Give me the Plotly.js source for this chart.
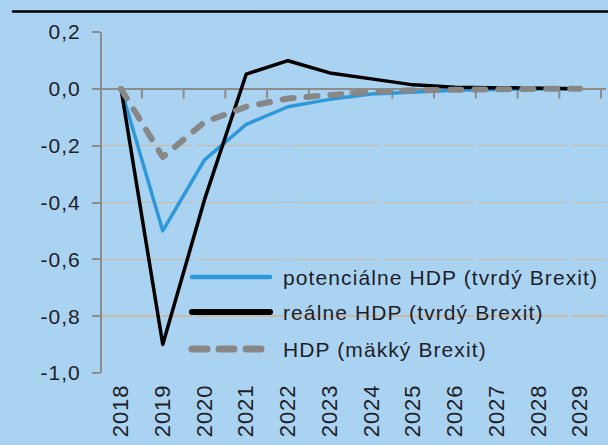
<!DOCTYPE html>
<html><head><meta charset="utf-8">
<script src="https://cdn.plot.ly/plotly-3.0.1.min.js"></script>
<style>
html,body{margin:0;padding:0;background:#aad2f1;}
#chart{width:608px;height:445px;}
.scatterlayer .js-line{stroke-linecap:round;stroke-linejoin:round;}
.shapelayer path{stroke-linecap:round;}
.annotation-text{letter-spacing:1.1px;}
.ytick text{letter-spacing:1px;}
.xtick text{letter-spacing:1px;}
</style></head><body><div id="chart"></div>
<script>
const years = [2018, 2019, 2020, 2021, 2022, 2023, 2024, 2025, 2026, 2027, 2028, 2029];
const potencialne = [0, -0.50, -0.25, -0.125, -0.063, -0.037, -0.018, -0.010, -0.005, -0.002, 0, 0];
const realne = [0, -0.90, -0.39, 0.052, 0.099, 0.056, 0.035, 0.014, 0.006, 0.003, 0.001, 0];
const makky = [0, -0.24, -0.117, -0.063, -0.034, -0.020, -0.010, -0.005, -0.002, 0, 0, 0];
const seriesNames = ['potenciálne HDP (tvrdý Brexit)', 'reálne HDP (tvrdý Brexit)', 'HDP (mäkký Brexit)'];
const yTickVals = [0.2, 0, -0.2, -0.4, -0.6, -0.8, -1.0];
const yTickText = ['0,2', '0,0', '-0,2', '-0,4', '-0,6', '-0,8', '-1,0'];

const W = 608, H = 445, L = 102, R = 2, T = 32, B = 72;
const pw = W - L - R, ph = H - T - B;
const px2X = px => (px - L) / pw;
const px2Y = py => (H - B - py) / ph;

const BG = '#aad2f1';
const AXC = '#8c8c8c';
const GRIDC = '#cbbba6';
const TXT = '#1e1e28';
const colors = ['#2f98db', '#000000', '#878787'];
const widths = [3.5, 3.5, 6];
const dashes = ['solid', 'solid', '11px,13px'];
const legWidths = [4.5, 6, 7];
const legDashes = ['solid', 'solid', '15px,12px'];
const seriesData = [potencialne, realne, makky];

const xRange = [2017.544, 2029.62];
const yRange = [-1.0, 0.2];

const traces = seriesData.map((vals, i) => ({
  type: 'scatter', mode: 'lines', x: years, y: vals, name: seriesNames[i],
  line: {color: colors[i], width: widths[i], dash: dashes[i]},
  hoverinfo: 'skip', showlegend: false
}));

const legRows = [277, 312, 349];
const zeroPx = H - B - ph * (0 - yRange[0]) / (yRange[1] - yRange[0]);
const shapes = [{
  type: 'line', xref: 'paper', yref: 'paper',
  x0: px2X(13), x1: px2X(608), y0: px2Y(11.5), y1: px2Y(11.5),
  line: {color: '#000', width: 2.5}
}];
// category-boundary tick marks hanging below the zero line
years.forEach(yr => {
  shapes.push({
    type: 'line', xref: 'x', yref: 'paper', layer: 'below',
    x0: yr + 0.5, x1: yr + 0.5, y0: px2Y(zeroPx), y1: px2Y(zeroPx + 9),
    line: {color: AXC, width: 2}
  });
});
const annotations = [];
seriesNames.forEach((n, i) => {
  shapes.push({
    type: 'line', xref: 'paper', yref: 'paper',
    x0: px2X(192), x1: px2X(270), y0: px2Y(legRows[i]), y1: px2Y(legRows[i]),
    line: {color: colors[i], width: legWidths[i], dash: legDashes[i]}
  });
  annotations.push({
    xref: 'paper', yref: 'paper', x: px2X(281), y: px2Y(legRows[i]),
    xanchor: 'left', yanchor: 'middle', showarrow: false, text: n,
    font: {family: 'Liberation Sans, Arial, sans-serif', size: 21, color: TXT}
  });
});

const layout = {
  width: W, height: H,
  margin: {l: L, r: R, t: T, b: B, pad: 0},
  paper_bgcolor: BG, plot_bgcolor: BG,
  showlegend: false,
  font: {family: 'Liberation Sans, Arial, sans-serif', color: TXT},
  xaxis: {
    range: xRange, tickvals: years, ticktext: years.map(String), tickangle: -90,
    ticks: '', showline: false, showgrid: false, zeroline: false,
    tickfont: {size: 22, color: TXT}, ticklabelstandoff: 6
  },
  yaxis: {
    range: yRange, tickvals: yTickVals, ticktext: yTickText,
    ticks: 'outside', ticklen: 8, tickwidth: 2, tickcolor: AXC,
    showline: true, linecolor: AXC, linewidth: 2,
    showgrid: true, gridcolor: GRIDC, gridwidth: 1.5, griddash: '90px,4px',
    zeroline: true, zerolinecolor: AXC, zerolinewidth: 2.5,
    tickfont: {size: 21, color: TXT}, ticklabelstandoff: 7
  },
  shapes: shapes,
  annotations: annotations
};

Plotly.newPlot('chart', traces, layout, {displayModeBar: false, staticPlot: true});
</script></body></html>
